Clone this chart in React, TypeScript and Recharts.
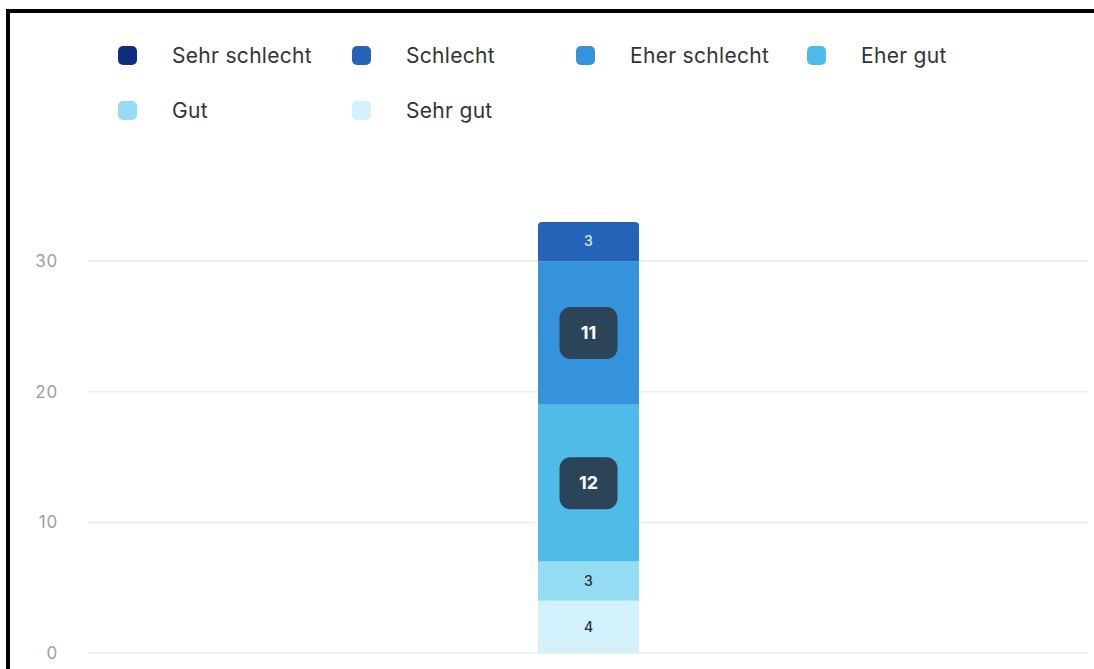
import React from "react";
import { BarChart, Bar, XAxis, YAxis, CartesianGrid, LabelList } from "recharts";

const categories = ["Bewertung"];
const seriesNames = ["Sehr gut", "Gut", "Eher gut", "Eher schlecht", "Schlecht", "Sehr schlecht"];
const sehrGut = [4];
const gut = [3];
const eherGut = [12];
const eherSchlecht = [11];
const schlecht = [3];
const sehrSchlecht = [0];
const yTicks = [0, 10, 20, 30];
const legendOrder = ["Sehr schlecht", "Schlecht", "Eher schlecht", "Eher gut", "Gut", "Sehr gut"];

const seriesValues: Record<string, number[]> = {
  "Sehr gut": sehrGut,
  "Gut": gut,
  "Eher gut": eherGut,
  "Eher schlecht": eherSchlecht,
  "Schlecht": schlecht,
  "Sehr schlecht": sehrSchlecht,
};

const colors: Record<string, string> = {
  "Sehr schlecht": "#0f2f7d",
  "Schlecht": "#2563b8",
  "Eher schlecht": "#3593dc",
  "Eher gut": "#4fbbe8",
  "Gut": "#94dcf2",
  "Sehr gut": "#d3f1fa",
};

const labelKinds: Record<string, string> = {
  "Sehr schlecht": "light",
  "Schlecht": "light",
  "Eher schlecht": "box",
  "Eher gut": "box",
  "Gut": "dark",
  "Sehr gut": "dark",
};

const data = categories.map((c, i) => {
  const row: Record<string, any> = { name: c };
  seriesNames.forEach((s) => (row[s] = seriesValues[s][i]));
  return row;
});

const FONT = "Inter, 'Noto Sans', sans-serif";

const makeLabel = (kind: string) => (props: any) => {
  const { x, y, width, height, value } = props;
  if (!value) return null;
  const cx = x + width / 2;
  const cy = y + height / 2;
  if (kind === "box") {
    return (
      <g>
        <rect x={cx - 29} y={cy - 26} width={58} height={52} rx={11} fill="#2b4457" />
        <text x={cx} y={cy + 1} textAnchor="middle" dominantBaseline="middle" fill="#ffffff" fontSize={18} fontWeight={700} fontFamily={FONT}>
          {value}
        </text>
      </g>
    );
  }
  return (
    <text x={cx} y={cy + 1} textAnchor="middle" dominantBaseline="middle" fill={kind === "light" ? "#d6ecfa" : "#2d2d2d"} fontSize={14} fontWeight={500} fontFamily={FONT}>
      {value}
    </text>
  );
};

const colWidths = [234, 224, 231, 200];

const CustomLegend = () => (
  <div style={{ position: "absolute", left: 118, top: 43, width: 900, display: "flex", flexWrap: "wrap", fontFamily: FONT }}>
    {legendOrder.map((name, i) => (
      <div key={name} style={{ width: colWidths[i % 4], height: 55, display: "flex", alignItems: "flex-start" }}>
        <div style={{ width: 19, height: 19, borderRadius: 5, background: colors[name], marginTop: 3 }} />
        <span style={{ marginLeft: 35, fontSize: 21, letterSpacing: 0.3, color: "#333", lineHeight: "25px" }}>{name}</span>
      </div>
    ))}
  </div>
);

export default function App() {
  return (
    <div style={{ position: "absolute", left: 0, top: 0, width: 1094, height: 669, background: "#fff", overflow: "hidden" }}>
      <div style={{ position: "absolute", left: 6, top: 9, width: 1100, height: 700, borderLeft: "4px solid #000", borderTop: "4px solid #000" }} />
      <CustomLegend />
      <div style={{ position: "absolute", left: 0, top: 0 }}>
        <BarChart width={1094} height={669} data={data} margin={{ top: 222, right: 6, bottom: 16, left: 0 }} barSize={101}>
          <CartesianGrid vertical={false} horizontalValues={yTicks} stroke="#ebebeb" strokeWidth={1.5} />
          <XAxis dataKey="name" hide />
          <YAxis
            width={88}
            domain={[0, 33]}
            ticks={yTicks}
            axisLine={false}
            tickLine={false}
            tickSize={0}
            tickMargin={30}
            tick={{ fill: "#a0a0a0", fontSize: 17, letterSpacing: 0.8, fontFamily: FONT }}
          />
          {seriesNames.map((s) => (
            <Bar
              key={s}
              dataKey={s}
              stackId="a"
              fill={colors[s]}
              isAnimationActive={false}
              radius={s === "Schlecht" ? [4, 4, 0, 0] : 0}
            >
              <LabelList dataKey={s} content={makeLabel(labelKinds[s])} />
            </Bar>
          ))}
        </BarChart>
      </div>
    </div>
  );
}
